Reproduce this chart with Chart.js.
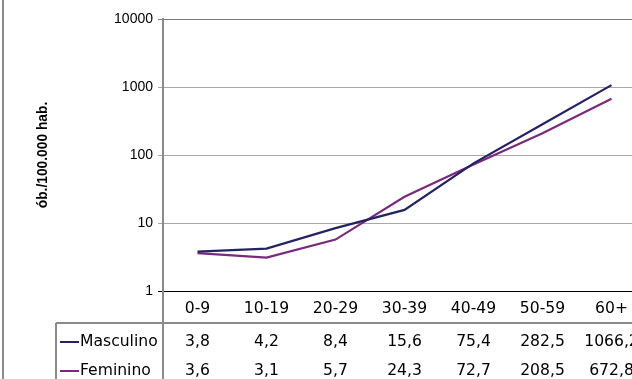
<!DOCTYPE html>
<html>
<head>
<meta charset="utf-8">
<script src="https://cdn.jsdelivr.net/npm/chart.js@4/dist/chart.umd.min.js"></script>
<style>
  html, body { margin: 0; padding: 0; background: #fff; overflow: hidden; }
  #wrap { width: 660px; height: 379px; }
</style>
</head>
<body>
<div id="wrap"><canvas id="mortChart" width="660" height="379"></canvas></div>
<script>
// age groups and rates per 100.000 inhabitants
const faixas = ["0-9", "10-19", "20-29", "30-39", "40-49", "50-59", "60+"];
const masculino = [3.8, 4.2, 8.4, 15.6, 75.4, 282.5, 1066.2];
const feminino = [3.6, 3.1, 5.7, 24.3, 72.7, 208.5, 672.8];
const yTicks = [1, 10, 100, 1000, 10000];

const corMasc = "#242263";
const corFem = "#7a2a7a";
const tableFont = "15.6px 'DejaVu Sans'";

const fmt = (v) => v.toFixed(1).replace(".", ",");

// ----data table drawn under the x axis---------
const dataTable = {
  id: "dataTable",
  beforeDraw(chart) {
    const ctx = chart.ctx;
    ctx.save();
    ctx.fillStyle = "#8a8a8a";
    ctx.fillRect(2, 0, 2, chart.height);
    ctx.restore();
  },
  afterDraw(chart) {
    const ctx = chart.ctx;
    const area = chart.chartArea;
    const x = chart.scales.x;
    const tableTop = 323;
    const rows = [
      { label: "Masculino", values: masculino, color: corMasc, y: 342 },
      { label: "Feminino", values: feminino, color: corFem, y: 371 },
    ];

    ctx.save();
    ctx.strokeStyle = "#8a8a8a";
    ctx.lineWidth = 2;
    ctx.beginPath();
    ctx.moveTo(area.left, area.bottom);
    ctx.lineTo(area.left, chart.height);
    ctx.moveTo(56, tableTop);
    ctx.lineTo(chart.width, tableTop);
    ctx.moveTo(56, tableTop);
    ctx.lineTo(56, chart.height);
    ctx.stroke();

    ctx.font = tableFont;
    ctx.textBaseline = "middle";
    rows.forEach((row) => {
      ctx.strokeStyle = row.color;
      ctx.lineWidth = 2;
      ctx.beginPath();
      ctx.moveTo(60, row.y);
      ctx.lineTo(79, row.y);
      ctx.stroke();

      ctx.fillStyle = "#000";
      ctx.textAlign = "left";
      ctx.fillText(row.label, 80, row.y);

      ctx.textAlign = "center";
      row.values.forEach((v, i) => {
        ctx.fillText(fmt(v), x.getPixelForValue(i), row.y);
      });
    });
    ctx.restore();
  },
};

const mortChart = new Chart(document.getElementById("mortChart"), {
  type: "line",
  data: {
    labels: faixas,
    datasets: [
      {
        label: "Masculino",
        data: masculino,
        borderColor: corMasc,
        backgroundColor: corMasc,
        borderWidth: 2.2,
        pointRadius: 0,
        tension: 0,
      },
      {
        label: "Feminino",
        data: feminino,
        borderColor: corFem,
        backgroundColor: corFem,
        borderWidth: 2.2,
        pointRadius: 0,
        tension: 0,
      },
    ],
  },
  options: {
    responsive: false,
    animation: false,
    layout: {
      padding: { top: 19, right: 14, bottom: 0, left: 0 },
    },
    scales: {
      x: {
        offset: true,
        grid: { display: false, drawTicks: false },
        border: { display: true, color: "#000", width: 1 },
        ticks: {
          color: "#000",
          padding: 9,
          maxRotation: 0,
          font: { family: "'DejaVu Sans'", size: 15.6 },
        },
        afterFit(scale) {
          scale.height = 88;
        },
      },
      y: {
        type: "logarithmic",
        min: 1,
        max: 10000,
        afterBuildTicks(scale) {
          scale.ticks = yTicks.map((v) => ({ value: v }));
        },
        afterFit(scale) {
          scale.width = 163;
        },
        grid: {
          tickLength: 5,
          lineWidth: 1,
          color: (c) => {
            const v = c.tick && c.tick.value;
            if (v === 1) return "#000";
            if (v === 10000) return "#7a7a7a";
            return "#a8a8a8";
          },
        },
        border: { display: true, color: "#8a8a8a", width: 2 },
        ticks: {
          color: "#000",
          padding: 5,
          font: { family: "'Liberation Sans'", size: 14 },
          callback: (v) => String(v),
        },
        title: {
          display: true,
          text: "ób./100.000 hab.",
          color: "#000",
          padding: { top: 35, bottom: 0 },
          font: { family: "'Liberation Sans'", size: 13.8, weight: "bold" },
        },
      },
    },
    plugins: {
      legend: { display: false },
      tooltip: { enabled: false },
    },
  },
  plugins: [dataTable],
});
</script>
</body>
</html>
